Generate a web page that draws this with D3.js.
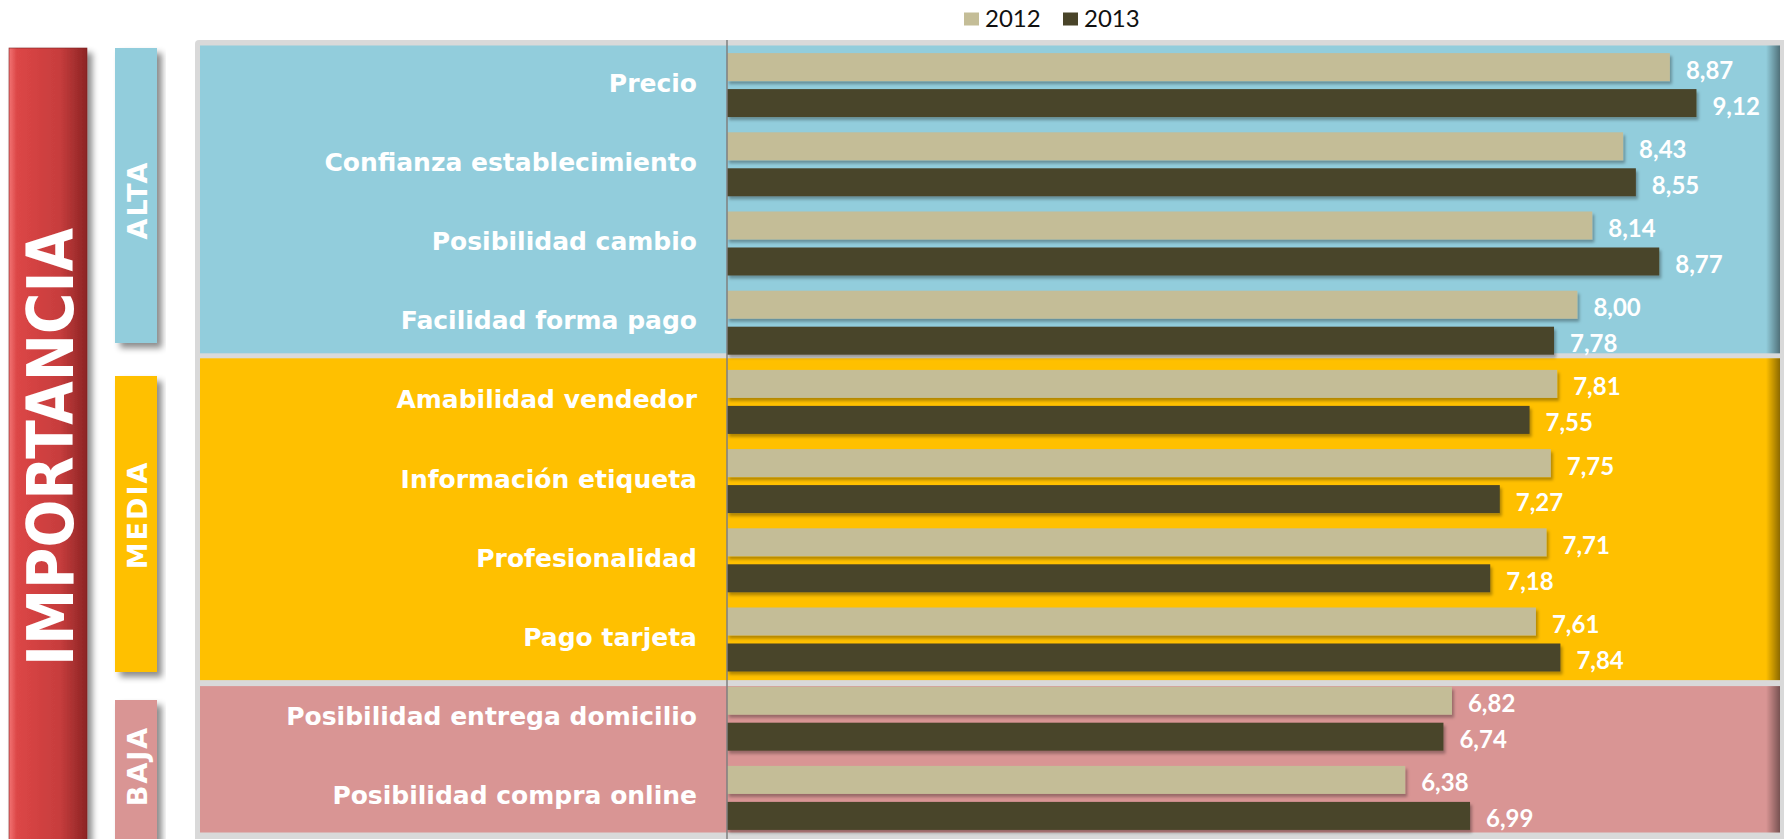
<!DOCTYPE html>
<html>
<head>
<meta charset="utf-8">
<script src="https://cdn.jsdelivr.net/npm/d3@7.9.0/dist/d3.min.js"></script>
<style>
  html, body { margin: 0; padding: 0; background: #fff; }
  svg { display: block; font-family: Lato, "Open Sans", sans-serif; }
</style>
</head>
<body>
<svg id="chart" width="1784" height="839"></svg>
<script>
// data
const categories = ["Precio", "Confianza establecimiento", "Posibilidad cambio", "Facilidad forma pago",
  "Amabilidad vendedor", "Información etiqueta", "Profesionalidad", "Pago tarjeta",
  "Posibilidad entrega domicilio", "Posibilidad compra online"];
const values2012 = [8.87, 8.43, 8.14, 8.00, 7.81, 7.75, 7.71, 7.61, 6.82, 6.38];
const values2013 = [9.12, 8.55, 8.77, 7.78, 7.55, 7.27, 7.18, 7.84, 6.74, 6.99];
const years = ["2012", "2013"];
const groupNames = ["ALTA", "MEDIA", "BAJA"];
const groupSizes = [4, 4, 2];
const sideTitle = "IMPORTANCIA";

const yearColors = { "2012": "#c4bd97", "2013": "#494429" };
const groupColors = ["#92cddc", "#ffc000", "#d99594"];
const boldFont = '"DejaVu Sans", sans-serif';

const svg = d3.select('#chart');
const defs = svg.append('defs');

// drop shadow for bars / boxes
function shadow(id, dx, dy, blur, op) {
  let f = defs.append('filter').attr('id', id)
    .attr('x', '-10%').attr('y', '-20%').attr('width', '130%').attr('height', '160%');
  f.append('feDropShadow').attr('dx', dx).attr('dy', dy)
    .attr('stdDeviation', blur).attr('flood-color', '#000').attr('flood-opacity', op);
}
shadow('barShadow', 2, 3, 1.5, 0.3);
shadow('boxShadow', 5, 5, 3, 0.45);

let redGrad = defs.append('linearGradient').attr('id', 'redGrad');
redGrad.append('stop').attr('offset', '0%').attr('stop-color', '#f27474');
redGrad.append('stop').attr('offset', '10%').attr('stop-color', '#dc4646');
redGrad.append('stop').attr('offset', '65%').attr('stop-color', '#c73d3d');
redGrad.append('stop').attr('offset', '100%').attr('stop-color', '#8c2424');

let edgeGrad = defs.append('linearGradient').attr('id', 'edgeGrad');
edgeGrad.append('stop').attr('offset', '0%').attr('stop-color', '#000').attr('stop-opacity', 0);
edgeGrad.append('stop').attr('offset', '100%').attr('stop-color', '#000').attr('stop-opacity', 0.45);

const x = d3.scaleLinear().domain([0, 10]).range([727, 1790]);
const y = d3.scaleBand().domain(categories).range([45.5, 837.5]).padding(0);
const yInner = d3.scaleBand().domain(years).range([7.6, 71.6]).paddingInner(0.222);

// legend
const legend = svg.append('g');
years.forEach((yr, i) => {
  let lx = 964 + i * 99;
  legend.append('rect').attr('x', lx).attr('y', 12.5).attr('width', 15).attr('height', 13)
    .attr('fill', yearColors[yr]);
  legend.append('text').attr('x', lx + 21).attr('y', 27).attr('font-size', 24)
    .attr('fill', '#111').text(yr);
});

// big red side bar
svg.append('rect').attr('x', 9).attr('y', 48).attr('width', 78).attr('height', 820)
  .attr('fill', 'url(#redGrad)').attr('stroke', '#7a1f1f').attr('stroke-width', 0.6)
  .attr('filter', 'url(#boxShadow)');
svg.append('text')
  .attr('transform', 'translate(73,447) rotate(-90)')
  .attr('text-anchor', 'middle').attr('font-size', 64).attr('font-weight', 700)
  .style('font-family', boldFont)
  .attr('fill', '#fff').attr('textLength', 438).attr('lengthAdjust', 'spacingAndGlyphs')
  .text(sideTitle);

// panel frame
svg.append('rect').attr('x', 195).attr('y', 40).attr('width', 1600).attr('height', 820)
  .attr('rx', 4).attr('fill', '#d9d9d9');

// group bands
const groupPad = [[0, -9], [-4, 1], [7, -5]];
const boxSpan = [[48, 343], [376, 672], [700, 870]];
const labelCy = [200, 515, 766];
let start = 0;
groupNames.forEach((g, gi) => {
  let first = categories[start];
  let last = categories[start + groupSizes[gi] - 1];
  let y0 = y(first) + groupPad[gi][0];
  let y1 = y(last) + y.step() + groupPad[gi][1];
  svg.append('rect').attr('x', 200).attr('y', y0).attr('width', 1580).attr('height', y1 - y0)
    .attr('fill', groupColors[gi]);
  svg.append('rect').attr('x', 1766).attr('y', y0).attr('width', 14).attr('height', y1 - y0)
    .attr('fill', 'url(#edgeGrad)');

  // label box at the left
  let b = boxSpan[gi];
  svg.append('rect').attr('x', 115).attr('y', b[0]).attr('width', 42).attr('height', b[1] - b[0])
    .attr('fill', groupColors[gi]).attr('filter', 'url(#boxShadow)');
  svg.append('text')
    .attr('transform', `translate(147,${labelCy[gi]}) rotate(-90)`)
    .attr('text-anchor', 'middle').attr('font-size', 27).attr('font-weight', 700)
    .style('font-family', boldFont)
    .attr('letter-spacing', 2).attr('fill', '#fff').text(g);
  start += groupSizes[gi];
});

// category labels
svg.append('g').selectAll('text').data(categories).join('text')
  .attr('x', 697).attr('y', d => y(d) + y.step() / 2 - 2)
  .attr('text-anchor', 'end').attr('dominant-baseline', 'central')
  .style('font-family', boldFont)
  .attr('font-size', 25).attr('font-weight', 700).attr('fill', '#fff')
  .text(d => d);

// bars
const rows = [];
categories.forEach((c, i) => {
  rows.push({ cat: c, year: "2012", value: values2012[i] });
  rows.push({ cat: c, year: "2013", value: values2013[i] });
});

svg.append('g').selectAll('rect').data(rows).join('rect')
  .attr('x', x(0))
  .attr('y', d => y(d.cat) + yInner(d.year))
  .attr('width', d => x(d.value) - x(0))
  .attr('height', yInner.bandwidth())
  .attr('fill', d => yearColors[d.year])
  .attr('filter', 'url(#barShadow)');

svg.append('g').selectAll('text').data(rows).join('text')
  .attr('x', d => x(d.value) + 16)
  .attr('y', d => y(d.cat) + yInner(d.year) + yInner.bandwidth() / 2 + 2)
  .attr('dominant-baseline', 'central')
  .attr('font-size', 24).attr('font-weight', 700).attr('fill', '#fff')
  .text(d => d.value.toFixed(2).replace('.', ','));

// vertical axis line
svg.append('line').attr('x1', x(0)).attr('x2', x(0)).attr('y1', 40).attr('y2', 839)
  .attr('stroke', '#7f7f7f').attr('stroke-width', 1.5);
</script>
</body>
</html>
